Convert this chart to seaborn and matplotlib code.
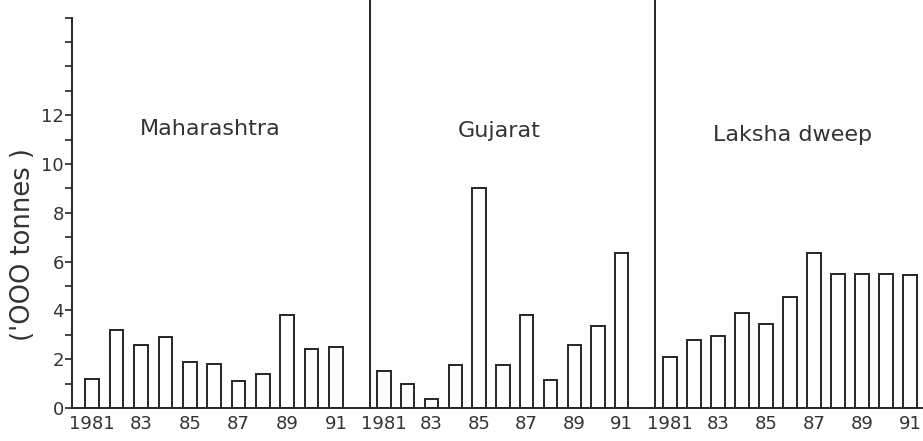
import matplotlib
matplotlib.use("Agg")
import matplotlib.pyplot as plt
import seaborn as sns
import pandas as pd

# ---- data ----
years = [str(y) for y in range(1981, 1992)]
year_labels = ["1981", "", "83", "", "85", "", "87", "", "89", "", "91"]
maharashtra = [1.2, 3.2, 2.6, 2.9, 1.9, 1.8, 1.1, 1.4, 3.8, 2.4, 2.5]
gujarat = [1.5, 1.0, 0.35, 1.75, 9.0, 1.75, 3.8, 1.15, 2.6, 3.35, 6.35]
lakshadweep = [2.1, 2.8, 2.95, 3.9, 3.45, 4.55, 6.35, 5.5, 5.5, 5.5, 5.45]
regions = ["Maharashtra", "Gujarat", "Laksha dweep"]
y_ticks = list(range(0, 17))
y_tick_labels = ["0", "", "2", "", "4", "", "6", "", "8", "", "10", "", "12", "", "", "", ""]
y_label = "('OOO tonnes )"

sns.set_theme(style="ticks")
plt.rcParams["font.family"] = ["DejaVu Sans"]

INK = "#262626"
W, H = 923, 441
fig = plt.figure(figsize=(W / 100, H / 100), dpi=100)
fig.patch.set_facecolor("white")

base_px = 408
ytop = base_px / 24.4
bottom = 1 - base_px / H

panels = [
    # (left px, right px, xlim)
    (72, 370, (-0.833, 11.395)),
    (370, 655, (-0.589, 11.40)),
    (655, 922, (-0.625, 10.5)),
]
series = [maharashtra, gujarat, lakshadweep]
title_pos = [(210.5, 135), (499, 137), (792.5, 141)]

for i, ((lpx, rpx, xl), vals) in enumerate(zip(panels, series)):
    ax = fig.add_axes([lpx / W, bottom, (rpx - lpx) / W, 1 - bottom])
    ax.set_facecolor("white")
    df = pd.DataFrame({"year": years, "value": vals})
    sns.barplot(data=df, x="year", y="value", ax=ax, color="white",
                edgecolor=INK, linewidth=1.4, width=0.56, saturation=1,
                order=years)
    ax.set_xlim(*xl)
    ax.set_ylim(0, ytop)
    ax.set_xlabel("")
    ax.set_ylabel("")
    for s in ["top", "right"]:
        ax.spines[s].set_visible(False)
    ax.spines["bottom"].set_color(INK)
    ax.spines["bottom"].set_linewidth(1.4)
    ax.spines["left"].set_color(INK)
    ax.spines["left"].set_linewidth(1.4)
    ax.set_xticks(range(len(years)))
    ax.set_xticklabels(year_labels, fontsize=13, color="#333333")
    ax.tick_params(axis="x", length=0, pad=5)
    if i == 0:
        ax.spines["left"].set_bounds(0, 16)
        ax.set_yticks(y_ticks)
        ax.set_yticklabels(y_tick_labels, fontsize=13, color="#333333")
        ax.tick_params(axis="y", length=5, width=1.2, color=INK, pad=1,
                       direction="out")
    else:
        ax.set_yticks([])
    fig.text(title_pos[i][0] / W, 1 - title_pos[i][1] / H, regions[i],
             ha="center", va="baseline", fontsize=16, color="#333333")

fig.text(23 / W, 1 - 245 / H, y_label, rotation=90, ha="center", va="center",
         fontsize=18.5, color="#333333")

fig.savefig("out.png", dpi=100, facecolor="white")
